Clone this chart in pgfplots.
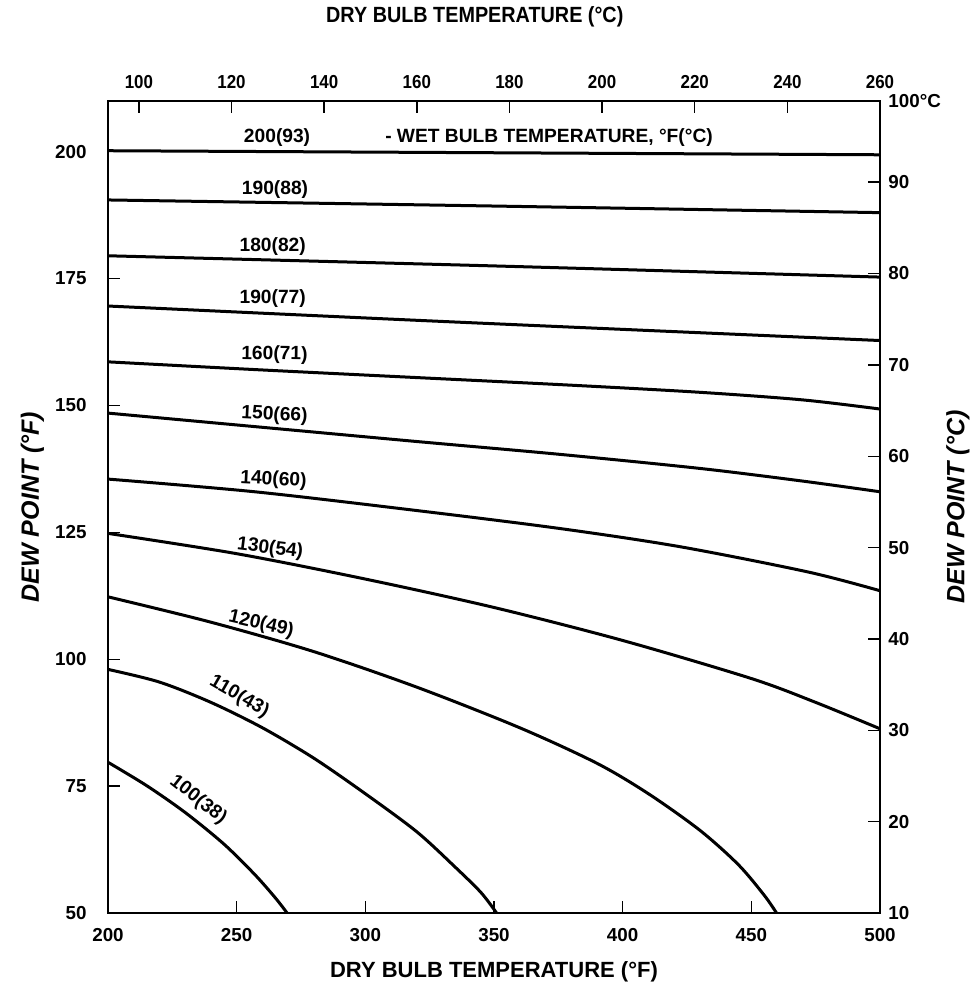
\documentclass[border=0pt]{standalone}
\usepackage{fontspec}
\setmainfont{Liberation Sans}
\newfontfamily\condfont[FakeStretch=0.9]{Liberation Sans}
\usepackage{pgfplots}
\pgfplotsset{compat=1.18}
\newcommand{\tl}{\fontsize{9.4}{11}\selectfont\bfseries}
\newcommand{\cl}{\fontsize{9.6}{11}\selectfont\bfseries}
\newcommand{\al}{\fontsize{11}{13}\selectfont\bfseries}
\newcommand{\yl}{\fontsize{12.5}{14}\selectfont\bfseries\itshape}
\pgfplotsset{
 base/.style={
  at={(0,0)}, anchor=south west, width=386pt, height=406pt, scale only axis,
  tick align=inside, major tick length=6pt,
  every tick/.style={black, line width=0.7pt},
  axis line style={line width=1pt},
  /pgf/number format/assume math mode=true,
  tick label style={font=\tl},
 },
 cv/.style={black, line width=1.5pt, smooth, mark=none},
}
\begin{document}
\begin{tikzpicture}
\path[use as bounding box] (-54pt,-35pt) rectangle (431.5pt,456.5pt);
\begin{axis}[base,
 xmin=200,xmax=500,ymin=50,ymax=210,
 xtick={200,250,...,500}, ytick={50,75,...,200},
 xtick pos=left, ytick pos=left,
 xticklabel style={anchor=north, inner sep=0pt, yshift=-7.5pt},
 yticklabel style={anchor=east, inner sep=0pt, xshift=-10.5pt},
 xlabel={DRY BULB TEMPERATURE (°F)},
 ylabel={DEW POINT (°F)},
 xlabel style={at={(axis description cs:0.5,-0.08)}, anchor=base, font=\al},
 ylabel style={at={(axis description cs:-0.098,0.5)}, anchor=center, font=\yl},
]
% wet bulb 200(93)
\addplot[cv] coordinates {(200,200.2) (350,199.8) (500,199.4)};
% 190(88)
\addplot[cv] coordinates {(200,190.5) (350,189.3) (500,188.0)};
% 180(82)
\addplot[cv] coordinates {(200,179.5) (350,177.5) (500,175.3)};
% 170(77)
\addplot[cv] coordinates {(200,169.6) (315,166.9) (400,165.0) (500,162.8)};
% 160(71)
\addplot[cv] coordinates {(200,158.6) (260,157.0) (320,155.5) (380,154.0) (430,152.6) (470,151.1) (500,149.3)};
% 150(66)
\addplot[cv] coordinates {(200,148.5) (260,145.7) (320,142.9) (375,140.4) (430,137.6) (470,135.1) (500,133.0)};
% 140(60)
\addplot[cv] coordinates {(200,135.5) (257,133.0) (320,129.3) (375,125.8) (422,122.2) (472,117.2) (500,113.5)};
% 130(54)
\addplot[cv] coordinates {(200,124.8) (250,120.8) (300,115.8) (350,110.2) (400,103.7) (450,96.2) (475,91.5) (500,86.3)};
% 120(49)
\addplot[cv] coordinates {(200,112.3) (240,107.3) (280,101.5) (320,94.5) (360,86.5) (390,79.5) (410,73.5) (430,66.3) (445,59.5) (455,53.5) (459.8,50)};
% 110(43)
\addplot[cv] coordinates {(200,98.0) (220,95.5) (240,91.5) (260,86.5) (280,80.5) (300,73.5) (320,66.0) (335,59.0) (345,54.0) (351,50)};
% 100(38)
\addplot[cv] coordinates {(200,79.7) (215,75.1) (230,69.8) (245,63.6) (257,57.6) (265,53.0) (269.6,50)};

\node[font=\cl] at (axis cs:265.7,202.8) {200(93)};
\node[font=\cl, anchor=west] at (axis cs:305,202.8) {- WET BULB TEMPERATURE, °F(°C)};
\node[font=\cl] at (axis cs:264.9,192.5) {190(88)};
\node[font=\cl] at (axis cs:264,181.3) {180(82)};
\node[font=\cl] at (axis cs:264,171.0) {190(77)};
\node[font=\cl, rotate=-1] at (axis cs:264.7,160.0) {160(71)};
\node[font=\cl, rotate=-3] at (axis cs:264.7,148.1) {150(66)};
\node[font=\cl, rotate=-3] at (axis cs:264.3,135.3) {140(60)};
\node[font=\cl, rotate=-7] at (axis cs:263.0,121.8) {130(54)};
\node[font=\cl, rotate=-13] at (axis cs:259.5,106.9) {120(49)};
\node[font=\cl, rotate=-30] at (axis cs:251.0,92.6) {110(43)};
\node[font=\cl, rotate=-38] at (axis cs:235.0,72.3) {100(38)};
\end{axis}
% top Celsius axis
\begin{axis}[base,
 xmin=93.3333, xmax=260, ymin=0, ymax=1,
 axis x line*=top, hide y axis,
 xtick={100,120,...,260},
 xticklabel style={anchor=south, inner sep=0pt, yshift=6pt, font=\condfont\tl},
]
\end{axis}
\node[anchor=base, inner sep=0pt, font=\condfont\al] at (183.4pt,445pt) {DRY BULB TEMPERATURE (°C)};
% right Celsius axis
\begin{axis}[base,
 xmin=0, xmax=1, ymin=10, ymax=98.8889,
 axis y line*=right, hide x axis,
 ytick={10,20,...,90},
 extra y ticks={98.8889}, extra y tick labels={100°C},
 yticklabel style={anchor=west, inner sep=0pt, xshift=4pt},
 ylabel={DEW POINT (°C)},
 ylabel style={at={(axis description cs:1.101,0.5)}, anchor=center, font=\yl},
]
\end{axis}
\end{tikzpicture}
\end{document}
